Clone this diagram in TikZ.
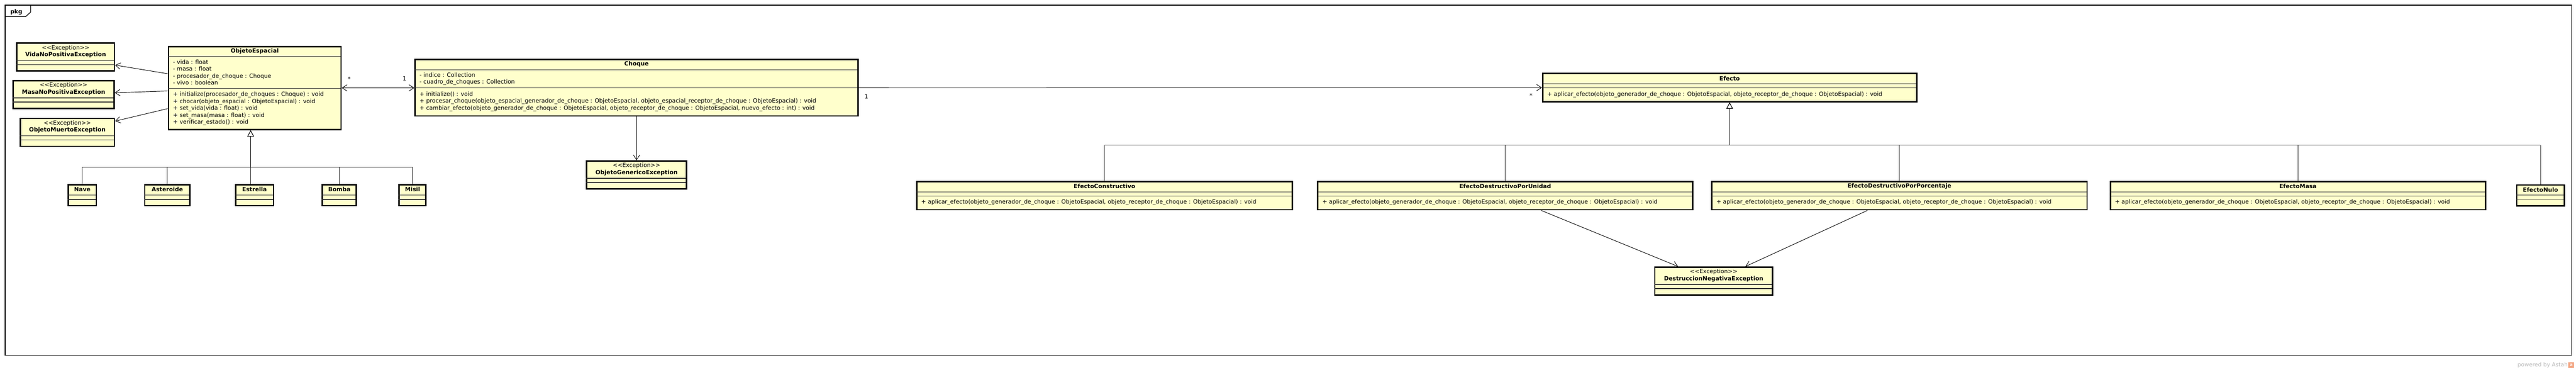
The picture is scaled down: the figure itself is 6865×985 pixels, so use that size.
\documentclass[tikz,border=0pt]{standalone}
\usepackage{fontspec}
\setmainfont{DejaVu Sans}
\usetikzlibrary{arrows.meta,positioning}
\definecolor{umlyellow}{HTML}{FFFFCC}
\definecolor{astahorange}{HTML}{F2A27E}
\newcommand{\umlfont}{\fontsize{15.3}{18.5}\selectfont}
\newcommand{\stereo}[1]{{\mdseries<\kern0pt<#1>\kern0pt>}}
\newcommand{\aplicar}{+ aplicar\_efecto(objeto\_generador\_de\_choque : ObjetoEspacial, objeto\_receptor\_de\_choque : ObjetoEspacial) : void}
\newcommand{\umlclass}[9]{%
  \path #2 node[klass, minimum width=#3, minimum height=#4+#5+#6] (#1) {};
  \path (#1.north) ++(0,#4/2) node[ktitle] (#1-name) {#7};
  \draw[divider] (#1.north west) ++(0,#4) -- ++(#3,0) ++(-#3,#5) -- ++(#3,0);
  \path (#1.north west) ++(14,#4+#5/2) node[members] (#1-attr) {#8};
  \path (#1.north west) ++(14,#4+#5+#6/2) node[members] (#1-ops) {#9};
}
\begin{document}
\begin{tikzpicture}[x=1pt, y=-1pt,
    klass/.style={draw, line width=3.8pt, fill=umlyellow, rectangle, inner sep=0pt, anchor=north west},
    ktitle/.style={font=\umlfont\bfseries, align=center, inner sep=0pt},
    members/.style={font=\umlfont, align=left, anchor=west, inner sep=0pt},
    divider/.style={line width=1.8pt, black!80},
    navtip/.tip={Straight Barb[length=13pt, width=17pt]},
    gentip/.tip={Triangle[open, length=17pt, width=18pt]},
    link/.style={line width=1.3pt, -navtip},
    bus/.style={line width=1.2pt, black!85},
    inherit/.style={line width=1.6pt, -gentip},
    mult/.style={font=\umlfont, inner sep=0pt}]
  \useasboundingbox (0,0) rectangle (6865,985);

  \path (13,13) node[draw, line width=1.8pt, anchor=north west, minimum width=6839, minimum height=933, inner sep=0pt] (pkg) {};
  \draw[line width=1.8pt] (pkg.north west) ++(0,31.3) -- ++(55.3,0) -- ++(13.4,-12) -- ++(0,-19.3);
  \path (pkg.north west) ++(30.5,19) node[font=\umlfont\bfseries, inner sep=0pt] (pkgname) {pkg};

  \umlclass{vidaexc}{(43,113)}{260}{48}{11}{15}{\stereo{Exception}\\VidaNoPositivaException}{}{}
  \umlclass{masaexc}{(33,213)}{269}{48}{11}{15}{\stereo{Exception}\\MasaNoPositivaException}{}{}
  \umlclass{muertoexc}{(52,314)}{251}{48}{11}{15}{\stereo{Exception}\\ObjetoMuertoException}{}{}

  \umlclass{espacial}{(447,122)}{460}{28.5}{85}{107.5}{ObjetoEspacial}
    {- vida : float\\- masa : float\\- procesador\_de\_choque : Choque\\- vivo : boolean}
    {+ initialize(procesador\_de\_choques : Choque) : void\\+ chocar(objeto\_espacial : ObjetoEspacial) : void\\+ set\_vida(vida : float) : void\\+ set\_masa(masa : float) : void\\+ verificar\_estado() : void}

  \umlclass{nave}{(180,490)}{75}{30}{11.5}{14.5}{Nave}{}{}
  \umlclass{asteroide}{(384,490)}{120}{30}{11.5}{14.5}{Asteroide}{}{}
  \umlclass{estrella}{(626,490)}{101}{30}{11.5}{14.5}{Estrella}{}{}
  \umlclass{bomba}{(857,490)}{91}{30}{11.5}{14.5}{Bomba}{}{}
  \umlclass{misil}{(1062,490)}{71}{30}{11.5}{14.5}{Misil}{}{}

  \umlclass{choque}{(1104,157)}{1181}{29}{48}{73}{Choque}
    {- indice : Collection\\- cuadro\_de\_choques : Collection}
    {+ initialize() : void\\+ procesar\_choque(objeto\_espacial\_generador\_de\_choque : ObjetoEspacial, objeto\_espacial\_receptor\_de\_choque : ObjetoEspacial) : void\\+ cambiar\_efecto(objeto\_generador\_de\_choque : ObjetoEspacial, objeto\_receptor\_de\_choque : ObjetoEspacial, nuevo\_efecto : int) : void}
  \umlclass{genericoexc}{(1561,427)}{267}{48}{11}{15}{\stereo{Exception}\\ObjetoGenericoException}{}{}

  \umlclass{efecto}{(4109,194)}{997}{29}{11}{35}{Efecto}{}{\aplicar}
  \umlclass{constructivo}{(2441,482)}{1001}{29}{11}{35}{EfectoConstructivo}{}{\aplicar}
  \umlclass{porunidad}{(3510,482)}{999}{29}{11}{35}{EfectoDestructivoPorUnidad}{}{\aplicar}
  \umlclass{porporcentaje}{(4560,482)}{1000}{29}{11}{35}{EfectoDestructivoPorPorcentaje}{}{\aplicar}
  \umlclass{efmasa}{(5622,482)}{1000}{29}{11}{35}{EfectoMasa}{}{\aplicar}
  \umlclass{efnulo}{(6705,491)}{127}{29}{11}{16}{EfectoNulo}{}{}
  \umlclass{destruccionexc}{(4408,710)}{314}{48}{11}{15}{\stereo{Exception}\\DestruccionNegativaException}{}{}

  \foreach \e in {vidaexc,masaexc,muertoexc}
    \draw[link] (espacial) -- (\e);
  \draw[link, navtip-navtip] (espacial) -- (choque);
  \draw[link] (choque) -- (genericoexc);
  \draw[link] (choque) -- (efecto);
  \draw[link] (porunidad) -- (destruccionexc);
  \draw[link] (porporcentaje) -- (destruccionexc);

  \path ([shift={(20,-24.5)}]espacial.east) node[mult] (espmult) {*};
  \path ([shift={(-26,-24)}]choque.west) node[mult] (choqmult) {1};
  \path ([shift={(20,24)}]choque.east) node[mult] (choqmultb) {1};
  \path ([shift={(-29,21.5)}]efecto.west) node[mult] (efmult) {*};

  \coordinate (espbus) at (668,445);
  \foreach \k in {nave,asteroide,bomba,misil}
    \draw[bus] (\k.north) -- (\k.north |- espbus);
  \draw[bus] (espbus |- estrella.north) -- (espbus);
  \draw[bus] (nave.north |- espbus) -- (misil.north |- espbus);
  \draw[inherit] (espbus) -- (espbus |- espacial.south);

  \path (efecto.south) ++(0,114) coordinate (efbus);
  \foreach \k in {constructivo,porunidad,porporcentaje,efmasa,efnulo}
    \draw[bus] (\k.north) -- (\k.north |- efbus);
  \draw[bus] (constructivo.north |- efbus) -- (efnulo.north |- efbus);
  \draw[inherit] (efbus) -- (efecto.south);

  \path (6843,973) node[anchor=east, font=\fontsize{14.8}{16}\selectfont, text=gray!55, inner sep=0pt] (powered) {powered by Astah};
  \path node[right=1.5pt of powered, fill=astahorange, minimum size=15pt, inner sep=0pt, text=white, font=\fontsize{11}{11}\selectfont\bfseries] (astahlogo) {a};
\end{tikzpicture}
\end{document}
